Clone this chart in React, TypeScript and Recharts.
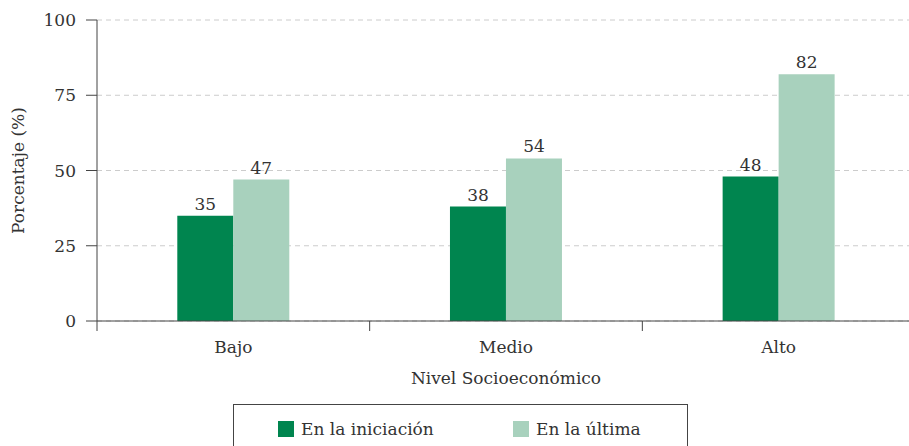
import React from 'react';
import {
  BarChart,
  Bar,
  XAxis,
  YAxis,
  CartesianGrid,
  LabelList,
  Legend,
} from 'recharts';

// Nivel socioeconómico categories and percentages per series
const categories = ['Bajo', 'Medio', 'Alto'];
const iniciacion = [35, 38, 48];
const ultima = [47, 54, 82];
const yTicks = [0, 25, 50, 75, 100];

const seriesNames = { iniciacion: 'En la iniciación', ultima: 'En la última' };
const seriesColors = { iniciacion: '#00854f', ultima: '#a8d1bd' };

const data = categories.map((c, i) => ({
  nivel: c,
  iniciacion: iniciacion[i],
  ultima: ultima[i],
}));

const FONT = 'DejaVu Serif';
const TEXT = '#333333';
const AXIS = '#444444';
const FS = 17;

// Category label with tick marks placed on the band boundaries
const CategoryTick = (props: any) => {
  const { x, y, payload, index } = props;
  const half = payload && payload.offset ? payload.offset : 0;
  return (
    <g>
      {index === 0 && (
        <line x1={x - half} x2={x - half} y1={y} y2={y + 10} stroke={AXIS} />
      )}
      <line x1={x + half} x2={x + half} y1={y} y2={y + 10} stroke={AXIS} />
      <text
        x={x}
        y={y + 32}
        textAnchor="middle"
        fill={TEXT}
        fontSize={FS}
        fontFamily={FONT}
      >
        {payload.value}
      </text>
    </g>
  );
};

const LegendBox = () => (
  <div
    style={{
      position: 'relative',
      width: '100%',
      height: '100%',
      boxSizing: 'border-box',
      border: `1px solid ${AXIS}`,
      fontFamily: FONT,
      fontSize: FS,
      color: TEXT,
    }}
  >
    {(['iniciacion', 'ultima'] as const).map((k, i) => (
      <div
        key={k}
        style={{
          position: 'absolute',
          left: i === 0 ? 44 : 279,
          top: 14,
          display: 'flex',
          alignItems: 'center',
          whiteSpace: 'nowrap',
        }}
      >
        <span
          style={{
            display: 'inline-block',
            width: 16,
            height: 16,
            background: seriesColors[k],
            marginRight: 7,
          }}
        />
        <span>{seriesNames[k]}</span>
      </div>
    ))}
  </div>
);

export default function App() {
  return (
    <div
      style={{
        position: 'absolute',
        left: 0,
        top: 0,
        width: 909,
        height: 446,
        overflow: 'hidden',
      }}
    >
      <BarChart
        width={915}
        height={446}
        data={data}
        margin={{ top: 20, right: 0, bottom: 55, left: 0 }}
        barCategoryGap="29.45%"
        barGap={0}
      >
        <CartesianGrid
          vertical={false}
          stroke="#cccccc"
          strokeDasharray="5 4"
        />
        <XAxis
          dataKey="nivel"
          height={70}
          axisLine={{ stroke: AXIS }}
          tickLine={false}
          tickSize={0}
          tickMargin={0}
          tick={<CategoryTick />}
          interval={0}
          label={{
            value: 'Nivel Socioeconómico',
            position: 'bottom',
            offset: -19,
            fill: TEXT,
            fontSize: FS,
            fontFamily: FONT,
          }}
        />
        <YAxis
          width={97}
          domain={[0, 100]}
          ticks={yTicks}
          interval={0}
          axisLine={{ stroke: AXIS }}
          tickLine={{ stroke: AXIS }}
          tickSize={11}
          tickMargin={10}
          tick={{ fill: TEXT, fontSize: FS, fontFamily: FONT }}
          label={{
            value: 'Porcentaje (%)',
            angle: -90,
            position: 'insideLeft',
            offset: 18,
            fill: TEXT,
            fontSize: FS,
            fontFamily: FONT,
            style: { textAnchor: 'middle' },
          }}
        />
        <Legend
          layout="horizontal"
          verticalAlign="middle"
          align="center"
          content={<LegendBox />}
          wrapperStyle={{ left: 233, top: 404, width: 455, height: 60 }}
        />
        <Bar
          dataKey="iniciacion"
          name={seriesNames.iniciacion}
          fill={seriesColors.iniciacion}
          isAnimationActive={false}
        >
          <LabelList
            dataKey="iniciacion"
            position="top"
            offset={6}
            fill={TEXT}
            fontSize={FS}
            fontFamily={FONT}
          />
        </Bar>
        <Bar
          dataKey="ultima"
          name={seriesNames.ultima}
          fill={seriesColors.ultima}
          isAnimationActive={false}
        >
          <LabelList
            dataKey="ultima"
            position="top"
            offset={6}
            fill={TEXT}
            fontSize={FS}
            fontFamily={FONT}
          />
        </Bar>
      </BarChart>
    </div>
  );
}
